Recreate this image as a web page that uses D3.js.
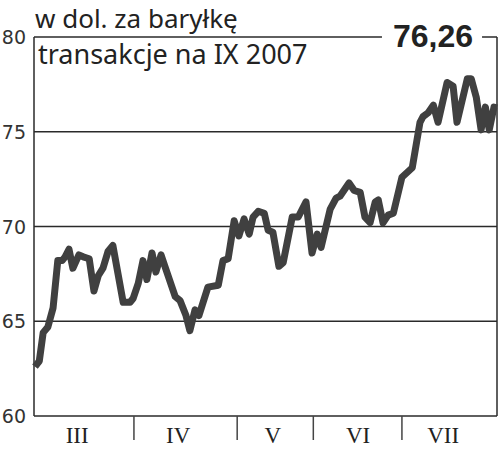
<!DOCTYPE html>
<html><head><meta charset="utf-8">
<script src="https://cdn.jsdelivr.net/npm/d3@7"></script>
<style>body{margin:0;background:#fff}svg{display:block}</style>
</head><body>
<svg id="c" width="500" height="449"></svg>
<script>
// trading-day index and price in USD per barrel
const days = [0,1,1.9,3.0,4.2,5.3,6.3,7.0,7.9,8.8,10.2,11.2,12.6,13.7,14.7,15.8,17.0,18.1,19.3,20.5,22.1,22.8,24.0,25.1,26.0,27.2,28.1,29.3,30.2,32.6,33.7,35.1,36.0,37.2,38.1,40.2,42.6,43.7,44.9,46.3,47.4,48.6,49.8,50.7,51.9,53.3,54.2,55.3,56.7,57.7,59.8,61.2,63.0,64.4,65.6,66.5,68.6,70.0,70.9,73.0,74.2,75.6,76.7,77.9,79.1,79.8,80.9,82.1,83.3,85.3,87.7,89.5,90.2,91.4,92.6,93.7,95.8,97.2,98.1,100.5,101.4,102.6,103.7,104.7,105.6,106.7,107.4];
const prices = [62.6,62.9,64.4,64.7,65.7,68.2,68.2,68.4,68.8,67.8,68.5,68.4,68.3,66.6,67.4,67.8,68.7,69.0,67.5,66.0,66.0,66.2,67.0,68.2,67.2,68.6,67.6,68.5,67.9,66.3,66.1,65.3,64.5,65.6,65.3,66.8,66.9,68.2,68.3,70.3,69.5,70.4,69.6,70.5,70.8,70.7,69.8,69.7,67.9,68.1,70.5,70.5,71.3,68.6,69.6,68.9,70.9,71.5,71.6,72.3,71.9,71.8,70.5,70.2,71.3,71.4,70.2,70.6,70.7,72.6,73.1,75.5,75.8,76.0,76.4,75.5,77.6,77.4,75.5,77.8,77.8,76.8,75.1,76.3,75.1,76.3,76.26];
const yTicks = [60,65,70,75,80];
const monthBounds = [23.0,47.0,64.7,85.3];
const monthNames = ["III","IV","V","VI","VII"];
const monthLabelDays = [9.8,33.3,55.3,75.1,94.9];
const title1 = "w dol. za baryłkę";
const title2 = "transakcje na IX 2007";
const lastValue = "76,26";

const svg = d3.select("#c");
const x = d3.scaleLinear().domain([0,107.4]).range([35,497]);
const y = d3.scaleLinear().domain([60,80]).range([416,37]);
const L = 34, R = 497;

// gridlines
svg.append("g").selectAll("line").data(yTicks).join("line")
  .attr("x1",L).attr("x2",R).attr("y1",d=>y(d)).attr("y2",d=>y(d))
  .attr("stroke","#2a2a2a").attr("stroke-width",1.5);
// frame
svg.append("line").attr("x1",L).attr("x2",L).attr("y1",y(80)).attr("y2",y(60)).attr("stroke","#2a2a2a").attr("stroke-width",1.5);
svg.append("line").attr("x1",R).attr("x2",R).attr("y1",y(80)).attr("y2",y(60)).attr("stroke","#2a2a2a").attr("stroke-width",1.5);

// y labels
svg.append("g").selectAll("text").data(yTicks).join("text")
  .attr("x",26).attr("y",d=>y(d)+7).attr("text-anchor","end")
  .attr("font-family","DejaVu Sans").attr("font-size",19).attr("fill","#333")
  .text(d=>d);

// month ticks
svg.append("g").selectAll("line").data(monthBounds).join("line")
  .attr("x1",d=>x(d)).attr("x2",d=>x(d)).attr("y1",y(60)).attr("y2",440)
  .attr("stroke","#444").attr("stroke-width",1.5);
svg.append("g").selectAll("text").data(monthNames).join("text")
  .attr("x",(d,i)=>x(monthLabelDays[i])).attr("y",443).attr("text-anchor","middle")
  .attr("font-family","Liberation Serif").attr("font-size",23).attr("fill","#222")
  .text(d=>d);

// titles
svg.append("text").attr("x",35).attr("y",28).attr("font-family","Noto Sans").attr("font-size",26).attr("fill","#222").text(title1);
svg.append("text").attr("x",38).attr("y",64).attr("font-family","Noto Sans").attr("font-size",27).attr("fill","#222").text(title2);

// last value label with white knockout
const lv = svg.append("text").attr("x",433).attr("y",47).attr("text-anchor","middle")
  .attr("font-family","Liberation Sans").attr("font-weight","bold").attr("font-size",32).attr("fill","#222").text(lastValue);
const bb = lv.node().getBBox();
svg.insert("rect",()=>lv.node()).attr("x",bb.x-11).attr("y",y(80)-3).attr("width",bb.width+20).attr("height",6).attr("fill","#fff");

// line
const line = d3.line().x((d,i)=>x(days[i])).y(d=>y(d));
svg.append("path").datum(prices).attr("d",line).attr("fill","none")
  .attr("stroke","#404040").attr("stroke-width",7).attr("stroke-linejoin","round").attr("stroke-linecap","butt");
</script>
</body></html>
